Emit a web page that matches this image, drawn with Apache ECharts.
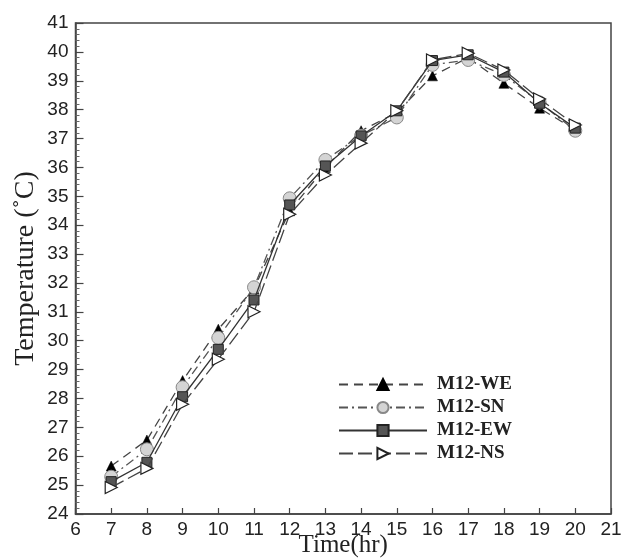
<!DOCTYPE html>
<html><head><meta charset="utf-8">
<script src="https://cdn.jsdelivr.net/npm/echarts@6/dist/echarts.min.js"></script>
<style>html,body{margin:0;padding:0;background:#fff}#c{width:622px;height:559px}</style>
</head><body><div id="c"></div>
<script>
const hours = [7,8,9,10,11,12,13,14,15,16,17,18,19,20];
const we = [25.66,26.56,28.62,30.40,31.80,34.50,36.00,37.27,37.90,39.17,39.80,38.91,38.05,37.30];
const sn = [25.29,26.24,28.39,30.10,31.85,34.93,36.26,37.10,37.73,39.55,39.72,39.20,38.25,37.27];
const ew = [25.12,25.79,28.06,29.70,31.41,34.70,36.05,37.09,37.96,39.70,39.90,39.30,38.22,37.36];
const ns = [24.92,25.58,27.80,29.36,31.00,34.38,35.74,36.84,37.96,39.72,39.95,39.37,38.37,37.47];
const seriesNames = ['M12-WE','M12-SN','M12-EW','M12-NS'];

const pair = a => hours.map((h,i)=>[h,a[i]]);
const chart = echarts.init(document.getElementById('c'));
chart.setOption({
  animation:false,
  grid:{left:75.5,right:11,top:23,bottom:45,outerBoundsMode:'none',containLabel:false,show:true,borderColor:'#444',borderWidth:1.5,backgroundColor:'transparent'},
  legend:{
    orient:'vertical', left:333, top:370, itemWidth:88, itemHeight:14, itemGap:4,
    data:seriesNames,
    textStyle:{fontFamily:'Liberation Serif',fontWeight:'bold',fontSize:19,color:'#222',padding:[0,0,0,5]}
  },
  xAxis:{
    type:'value',min:6,max:21,interval:1,
    name:'Time(hr)',nameLocation:'middle',nameGap:19,nameMoveOverlap:false,
    nameTextStyle:{fontFamily:'Liberation Serif',fontSize:25,color:'#222'},
    axisLine:{lineStyle:{color:'#444',width:1.5}},
    axisTick:{inside:true,length:6,lineStyle:{color:'#444',width:1.2}},
    axisLabel:{fontFamily:'Liberation Sans',fontSize:19,color:'#222',margin:6},
    splitLine:{show:false}
  },
  yAxis:{
    type:'value',min:24,max:41,interval:1,
    name:'Temperature (˚C)',nameLocation:'middle',nameGap:36,nameMoveOverlap:false,
    nameTextStyle:{fontFamily:'Liberation Serif',fontSize:28,color:'#222'},
    axisLine:{lineStyle:{color:'#444',width:1.5}},
    axisTick:{inside:true,length:8,lineStyle:{color:'#444',width:1.2}},
    minorTick:{show:true,splitNumber:5,length:4,lineStyle:{color:'#666',width:1}},
    axisLabel:{fontFamily:'Liberation Sans',fontSize:19,color:'#222',margin:7},
    splitLine:{show:false}
  },
  series:[
    {name:seriesNames[0],type:'line',data:pair(we),symbol:'triangle',symbolSize:10,
     lineStyle:{color:'#444',width:1.3,type:[9,6]},
     itemStyle:{color:'#000',borderColor:'#000',borderWidth:0.5},z:2},
    {name:seriesNames[1],type:'line',data:pair(sn),symbol:'circle',symbolSize:13,
     lineStyle:{color:'#555',width:1.3,type:[9,4,2,4]},
     itemStyle:{color:'#d4d4d4',borderColor:'#888',borderWidth:1},z:3},
    {name:seriesNames[2],type:'line',data:pair(ew),symbol:'rect',symbolSize:10,
     lineStyle:{color:'#333',width:1.3,type:'solid'},
     itemStyle:{color:'#555',borderColor:'#222',borderWidth:1},z:4},
    {name:seriesNames[3],type:'line',data:pair(ns),symbol:'triangle',symbolSize:12,symbolRotate:-90,
     lineStyle:{color:'#444',width:1.3,type:[14,5]},
     itemStyle:{color:'#fff',borderColor:'#222',borderWidth:1.2},z:5}
  ]
});
</script></body></html>
